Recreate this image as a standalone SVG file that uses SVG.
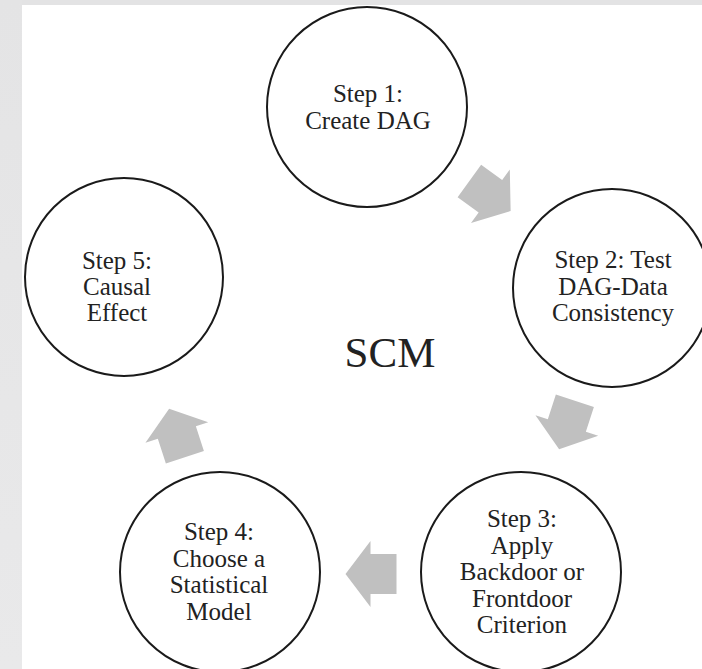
<svg xmlns="http://www.w3.org/2000/svg" xmlns:xlink="http://www.w3.org/1999/xlink" width="702" height="669" viewBox="0 0 702 669">
  <defs>
    <linearGradient id="bgL" x1="0" y1="0" x2="0" y2="1">
      <stop offset="0" stop-color="#e4e4e5"/>
      <stop offset="1" stop-color="#e9e9ea"/>
    </linearGradient>
    <polygon id="arr" points="-25.5,-20 0.5,-20 0.5,-33 25.5,0 0.5,33 0.5,20 -25.5,20"/>
    <style>
      .node circle { fill: #ffffff; stroke: #1a1a1a; stroke-width: 2; }
      .node text { font-family: "Liberation Serif", "Times New Roman", serif; font-size: 25px; fill: #222222; text-anchor: middle; }
      .conn use { fill: #c0c0c0; }
      .title { font-family: "Liberation Serif", "Times New Roman", serif; font-size: 43px; fill: #222222; text-anchor: middle; }
    </style>
  </defs>
  <rect x="0" y="0" width="702" height="669" fill="#ffffff"/>
  <rect x="0" y="0" width="702" height="5" fill="#e3e3e4"/>
  <rect x="0" y="0" width="22" height="669" fill="url(#bgL)"/>

  <g id="connectors" class="conn">
    <use xlink:href="#arr" href="#arr" transform="translate(490,196) rotate(36)"/>
    <use xlink:href="#arr" href="#arr" transform="translate(567,425) rotate(108)"/>
    <use xlink:href="#arr" href="#arr" transform="translate(371,574) rotate(180)"/>
    <use xlink:href="#arr" href="#arr" transform="translate(177,433) rotate(252)"/>
  </g>

  <g id="step1" class="node">
    <circle cx="367" cy="107" r="100"/>
    <text x="368" y="102">Step 1:</text>
    <text x="368" y="129">Create DAG</text>
  </g>
  <g id="step2" class="node">
    <circle cx="612" cy="288" r="99"/>
    <text x="613" y="268">Step 2: Test</text>
    <text x="613" y="294.5">DAG-Data</text>
    <text x="613" y="321">Consistency</text>
  </g>
  <g id="step3" class="node">
    <circle cx="521" cy="572" r="100"/>
    <text x="522" y="527">Step 3:</text>
    <text x="522" y="553.5">Apply</text>
    <text x="522" y="580">Backdoor or</text>
    <text x="522" y="606.5">Frontdoor</text>
    <text x="522" y="633">Criterion</text>
  </g>
  <g id="step4" class="node">
    <circle cx="220" cy="572" r="100"/>
    <text x="219" y="540">Step 4:</text>
    <text x="219" y="566.5">Choose a</text>
    <text x="219" y="593">Statistical</text>
    <text x="219" y="619.5">Model</text>
  </g>
  <g id="step5" class="node">
    <circle cx="124" cy="277" r="99"/>
    <text x="117" y="269">Step 5:</text>
    <text x="117" y="295">Causal</text>
    <text x="117" y="321">Effect</text>
  </g>

  <text id="scm" class="title" x="390" y="367">SCM</text>
</svg>
